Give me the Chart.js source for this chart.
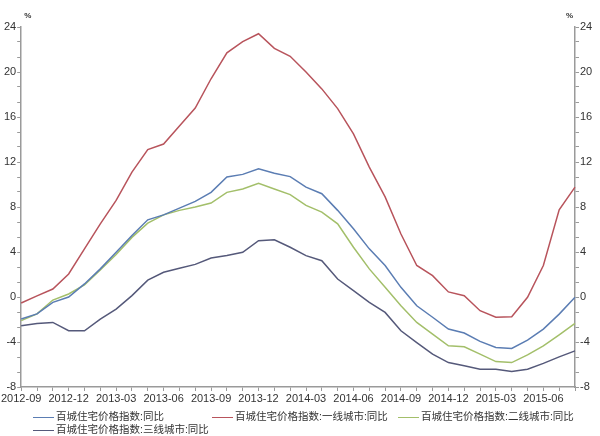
<!DOCTYPE html>
<html lang="zh">
<head>
<meta charset="UTF-8">
<title>百城住宅价格指数同比</title>
<script src="https://cdn.jsdelivr.net/npm/chart.js"></script>
<style>
    body { margin: 0; background: #fff; font-family: "Liberation Sans", Arial, "Noto Sans CJK SC", sans-serif; }
    #wrap { position: relative; width: 600px; height: 436px; }
    #chart { position: absolute; left: 0; top: 0; }
    #legend { position: absolute; left: 0; top: 410px; width: 600px; height: 26px; font-size: 10.5px; color: #333; }
    .item { position: absolute; white-space: nowrap; line-height: 13px; }
    .item span.line { display: inline-block; width: 21px; height: 0; border-top: 1.5px solid; vertical-align: middle; margin-right: 2px; }
</style>
</head>
<body>
<div id="wrap">
    <canvas id="chart" width="600" height="436"></canvas>
    <div id="legend"></div>
</div>

<script>
// months, 2012-09 .. 2015-08
const months = [
    '2012-09','2012-10','2012-11','2012-12','2013-01','2013-02','2013-03','2013-04','2013-05','2013-06','2013-07','2013-08',
    '2013-09','2013-10','2013-11','2013-12','2014-01','2014-02','2014-03','2014-04','2014-05','2014-06','2014-07','2014-08',
    '2014-09','2014-10','2014-11','2014-12','2015-01','2015-02','2015-03','2015-04','2015-05','2015-06','2015-07','2015-08'
];

const seriesNames = [
    '百城住宅价格指数:同比',
    '百城住宅价格指数:一线城市:同比',
    '百城住宅价格指数:二线城市:同比',
    '百城住宅价格指数:三线城市:同比'
];

const allCities = [-1.96, -1.5, -0.48, 0.0, 1.16, 2.5, 3.97, 5.46, 6.86, 7.3, 7.9, 8.5,
    9.3, 10.66, 10.9, 11.4, 11.0, 10.7, 9.77, 9.18, 7.7, 6.06, 4.28, 2.8,
    0.86, -0.78, -1.8, -2.85, -3.2, -3.95, -4.49, -4.58, -3.83, -2.85, -1.52, -0.03];

const tier1 = [-0.53, 0.1, 0.71, 2.05, 4.28, 6.5, 8.58, 11.1, 13.1, 13.6, 15.2, 16.8,
    19.4, 21.7, 22.7, 23.4, 22.1, 21.4, 20.0, 18.5, 16.75, 14.5, 11.55, 8.9,
    5.6, 2.8, 1.9, 0.45, 0.12, -1.22, -1.8, -1.76, -0.03, 2.8, 7.75, 9.77];

const tier2 = [-2.1, -1.5, -0.27, 0.27, 1.07, 2.4, 3.77, 5.3, 6.56, 7.3, 7.7, 8.0,
    8.35, 9.3, 9.6, 10.1, 9.6, 9.1, 8.14, 7.54, 6.5, 4.42, 2.5, 0.86,
    -0.78, -2.26, -3.3, -4.34, -4.43, -5.08, -5.74, -5.83, -5.14, -4.34, -3.36, -2.35];

const tier3 = [-2.56, -2.35, -2.26, -3.0, -3.0, -1.96, -1.07, 0.12, 1.5, 2.2, 2.55, 2.9,
    3.47, 3.68, 3.97, 5.0, 5.08, 4.42, 3.68, 3.23, 1.6, 0.56, -0.48, -1.37,
    -3.0, -4.05, -5.08, -5.83, -6.12, -6.42, -6.42, -6.63, -6.42, -5.9, -5.32, -4.79];

const yTickLabels = [-8, -4, 0, 4, 8, 12, 16, 20, 24];

const colors = ['#5b7db3', '#b8545c', '#a3bf6a', '#55597a'];
const seriesData = [allCities, tier1, tier2, tier3];

// y ticks: majors every 4, two minor ticks in between
function buildYTicks(scale) {
    const ticks = [];
    for (let i = 0; i < yTickLabels.length; i++) {
        ticks.push({ value: yTickLabels[i] });
        if (i < yTickLabels.length - 1) {
            const step = (yTickLabels[i + 1] - yTickLabels[i]) / 3;
            ticks.push({ value: yTickLabels[i] + step });
            ticks.push({ value: yTickLabels[i] + 2 * step });
        }
    }
    scale.ticks = ticks;
}

function yLabel(value) {
    return yTickLabels.includes(value) ? String(value) : '';
}

const axisColor = '#9a9a9a';
const tickFont = { family: '"Liberation Sans", Arial, sans-serif', size: 11 };

// "%" unit marks above both axes
const unitPlugin = {
    id: 'units',
    afterDraw(chart) {
        const ctx = chart.ctx;
        const area = chart.chartArea;
        ctx.save();
        ctx.fillStyle = '#333';
        ctx.font = 'bold 8px "Liberation Sans", Arial, sans-serif';
        ctx.textBaseline = 'middle';
        ctx.textAlign = 'left';
        ctx.fillText('%', area.left + 3, 16);
        ctx.textAlign = 'right';
        ctx.fillText('%', area.right - 2, 16);
        ctx.restore();
    }
};

const ctx = document.getElementById('chart').getContext('2d');
new Chart(ctx, {
    type: 'line',
    data: {
        labels: months,
        datasets: seriesNames.map((name, i) => ({
            label: name,
            data: seriesData[i],
            borderColor: colors[i],
            backgroundColor: colors[i],
            borderWidth: 1.5,
            pointRadius: 0,
            tension: 0,
            yAxisID: 'y'
        }))
    },
    options: {
        responsive: false,
        animation: false,
        layout: { padding: { top: 27, left: 0, right: 0, bottom: 0 } },
        plugins: {
            legend: { display: false },
            tooltip: { enabled: false }
        },
        scales: {
            x: {
                grid: { drawOnChartArea: false, color: axisColor, tickLength: 4 },
                border: { color: axisColor, width: 1.5 },
                ticks: {
                    autoSkip: false,
                    maxRotation: 0,
                    color: '#333',
                    font: tickFont,
                    padding: 1,
                    callback: (v, i) => (i % 3 === 0 ? months[i] : '')
                },
                afterFit: s => { s.height = 49; }
            },
            y: {
                position: 'left',
                min: -8,
                max: 24,
                afterBuildTicks: buildYTicks,
                grid: { drawOnChartArea: false, color: axisColor, tickLength: 4 },
                border: { color: axisColor, width: 1.5 },
                ticks: { autoSkip: false, color: '#333', font: tickFont, padding: 1, callback: yLabel },
                afterFit: s => { s.width = 21; }
            },
            y2: {
                position: 'right',
                min: -8,
                max: 24,
                afterBuildTicks: buildYTicks,
                grid: { drawOnChartArea: false, color: axisColor, tickLength: 4 },
                border: { color: axisColor, width: 1.5 },
                ticks: { autoSkip: false, color: '#333', font: tickFont, padding: 1, callback: yLabel },
                afterFit: s => { s.width = 25; }
            }
        }
    },
    plugins: [unitPlugin]
});

// legend: three columns, fourth entry wraps to second row
const legendPos = [[33, 0], [212, 0], [398, 0], [33, 13]];
const legend = document.getElementById('legend');
seriesNames.forEach((name, i) => {
    const div = document.createElement('div');
    div.className = 'item';
    div.style.left = legendPos[i][0] + 'px';
    div.style.top = legendPos[i][1] + 'px';
    div.innerHTML = '<span class="line" style="border-color:' + colors[i] + '"></span>' + name;
    legend.appendChild(div);
});
</script>
</body>
</html>
